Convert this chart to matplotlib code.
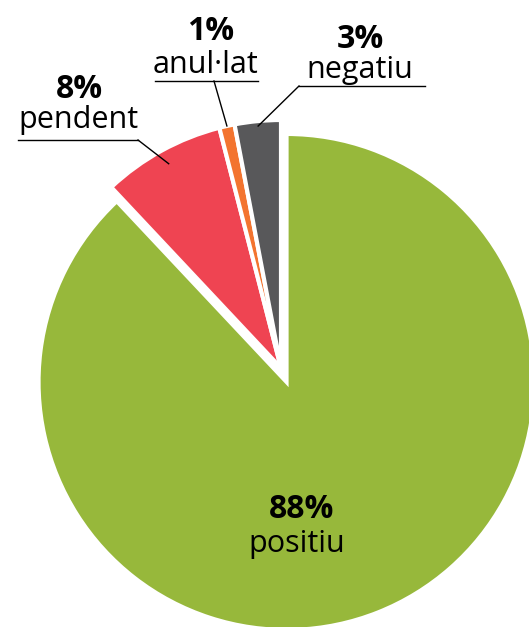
import numpy as np
import matplotlib
matplotlib.use('Agg')
import matplotlib.pyplot as plt

labels = ['positiu', 'pendent', 'anul·lat', 'negatiu']
values = [88, 8, 1, 3]
colors = ['#97b83b', '#ef4452', '#f3742f', '#58585a']

W, H = 529, 627
cx, cy, R = 281, H - 368, 248

plt.rcParams['font.family'] = ['Open Sans', 'DejaVu Sans']

fig = plt.figure(figsize=(W / 100, H / 100), dpi=100)
ax = fig.add_axes([0, 0, 1, 1])

# explode is in data units (pixels here)
wedges, _ = ax.pie(values, colors=colors, startangle=90, counterclock=False,
                   center=(cx, cy), radius=R, explode=[15, 0, 0, 0],
                   wedgeprops=dict(edgecolor='white', linewidth=3))
ax.set_xlim(0, W)
ax.set_ylim(0, H)
ax.set_aspect('equal')
ax.axis('off')

fs = 22
fsb = 23
# positiu label inside the big slice
ax.text(302, H - 518, '{}%'.format(values[0]), ha='center', va='baseline',
        fontsize=fsb, fontweight='bold')
ax.text(297, H - 552, labels[0], ha='center', va='baseline', fontsize=fs)

# outside labels: (idx, pct x, pct baseline, name x, name baseline, underline x0, x1, y, elbow x, radius frac)
outside = [
    (1, 79, 98, 78, 128, 18, 138, 140, 138, 0.94),
    (2, 211, 40, 206, 73, 155, 258, 81, 214, 1.0),
    (3, 360, 48, 360, 78, 299, 425, 86, 299, 0.98),
]
for i, px, py, nx, ny, ux0, ux1, uy, ex, rf in outside:
    w = wedges[i]
    ang = np.deg2rad((w.theta1 + w.theta2) / 2)
    tx = cx + rf * R * np.cos(ang)
    ty = cy + rf * R * np.sin(ang)
    ax.text(px, H - py, '{}%'.format(values[i]), ha='center', va='baseline',
            fontsize=fsb, fontweight='bold')
    ax.text(nx, H - ny, labels[i], ha='center', va='baseline', fontsize=fs)
    ax.plot([ux0, ux1], [H - uy, H - uy], color='black', lw=1)
    ax.plot([ex, tx], [H - uy, ty], color='black', lw=1)

fig.savefig('out.png', dpi=100)
